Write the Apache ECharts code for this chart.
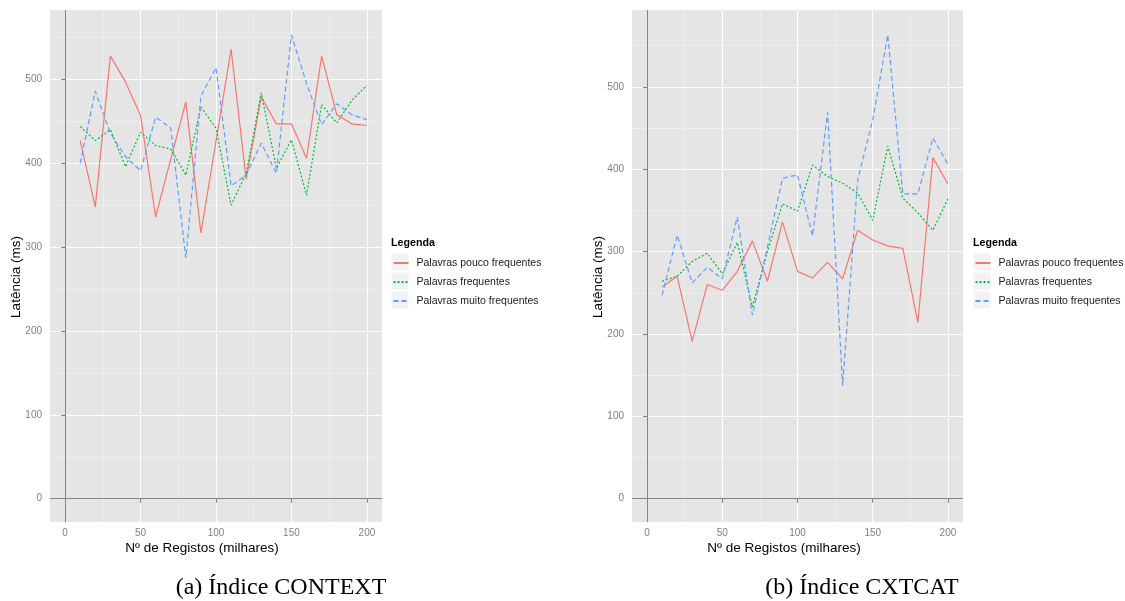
<!DOCTYPE html>
<html>
<head>
<meta charset="utf-8">
<script src="https://cdn.jsdelivr.net/npm/echarts@6/dist/echarts.min.js"></script>
<style>
  html, body { margin: 0; padding: 0; background: #ffffff; }
  #chart { width: 1125px; height: 601px; }
</style>
</head>
<body>
<div id="chart"></div>
<script>
// Número de registos (milhares)
const registos = [10, 20, 30, 40, 50, 60, 70, 80, 90, 100, 110, 120, 130, 140, 150, 160, 170, 180, 190, 200];

// Latência (ms) — índice CONTEXT
const contextPouco = [427, 348, 528, 497, 457, 336, 405, 473, 317, 426, 536, 381, 479, 447, 447, 406, 528, 458, 447, 445];
const contextFreq  = [444, 427, 440, 396, 437, 421, 417, 386, 467, 442, 350, 388, 484, 394, 428, 362, 470, 448, 475, 493];
const contextMuito = [400, 486, 436, 408, 391, 455, 442, 287, 480, 514, 373, 386, 424, 388, 553, 495, 446, 471, 458, 452];

// Latência (ms) — índice CXTCAT
const cxtcatPouco = [257, 270, 191, 260, 253, 276, 313, 264, 336, 276, 268, 287, 267, 326, 314, 307, 304, 214, 414, 382];
const cxtcatFreq  = [264, 270, 288, 298, 273, 311, 233, 300, 358, 349, 405, 391, 383, 371, 338, 428, 365, 347, 326, 364];
const cxtcatMuito = [247, 320, 262, 281, 267, 342, 223, 305, 389, 393, 319, 469, 137, 387, 460, 563, 370, 370, 438, 406];

// Tick values
const xTicks = [0, 50, 100, 150, 200];
const xMinorTicks = [25, 75, 125, 175];
const yTicks = [0, 100, 200, 300, 400, 500];
const yMinorTicks = [50, 150, 250, 350, 450, 550];

const seriesNames = ['Palavras pouco frequentes', 'Palavras frequentes', 'Palavras muito frequentes'];
const captions = ['(a) Índice CONTEXT', '(b) Índice CXTCAT'];

const SANS = "'Liberation Sans', Arial, sans-serif";
const SERIF = "'Liberation Serif', 'Times New Roman', serif";
const lineColors = ['#F8766D', '#00BA38', '#619CFF'];
const lineTypes = ['solid', [2, 2], [5, 3]];

// panel layout
const panels = [
  { left: 50, width: 332, yMin: -27.75, yMax: 582.75, data: [contextPouco, contextFreq, contextMuito],
    legendX: 391, yTitleX: 16, xTitleX: 202, captionX: 281 },
  { left: 632, width: 331, yMin: -28.25, yMax: 593.25, data: [cxtcatPouco, cxtcatFreq, cxtcatMuito],
    legendX: 973, yTitleX: 598, xTitleX: 784, captionX: 862 }
];
const gridTop = 10, gridBottom = 522;

const grids = [], xAxes = [], yAxes = [], series = [], legends = [], graphics = [];

panels.forEach((p, i) => {
  grids.push({
    left: p.left, width: p.width, top: gridTop, height: gridBottom - gridTop,
    show: true, backgroundColor: '#e5e5e5', borderWidth: 0
  });

  const xBase = { type: 'value', gridIndex: i, min: -10, max: 210, axisLine: { show: false } };
  // major grid, ticks and labels
  xAxes.push(Object.assign({}, xBase, {
    axisTick: { show: true, length: 4, customValues: xTicks, lineStyle: { color: '#7f7f7f' } },
    axisLabel: { show: true, customValues: xTicks, color: '#7f7f7f', fontSize: 10, fontFamily: SANS, margin: 6 },
    splitLine: { show: true, lineStyle: { color: '#ffffff', width: 1 } }
  }));
  // minor grid
  xAxes.push(Object.assign({}, xBase, {
    axisTick: { show: false, customValues: xMinorTicks },
    axisLabel: { show: false },
    splitLine: { show: true, lineStyle: { color: '#f2f2f2', width: 0.6 } }
  }));
  // zero reference line
  xAxes.push(Object.assign({}, xBase, {
    z: 1,
    axisTick: { show: false, customValues: [0] },
    axisLabel: { show: false },
    splitLine: { show: true, lineStyle: { color: '#858585', width: 1 } }
  }));

  const yBase = { type: 'value', gridIndex: i, min: p.yMin, max: p.yMax, axisLine: { show: false } };
  yAxes.push(Object.assign({}, yBase, {
    axisTick: { show: true, length: 4, customValues: yTicks, lineStyle: { color: '#7f7f7f' } },
    axisLabel: { show: true, customValues: yTicks, color: '#7f7f7f', fontSize: 10, fontFamily: SANS, margin: 8 },
    splitLine: { show: true, lineStyle: { color: '#ffffff', width: 1 } }
  }));
  yAxes.push(Object.assign({}, yBase, {
    axisTick: { show: false, customValues: yMinorTicks },
    axisLabel: { show: false },
    splitLine: { show: true, lineStyle: { color: '#f2f2f2', width: 0.6 } }
  }));
  yAxes.push(Object.assign({}, yBase, {
    z: 1,
    axisTick: { show: false, customValues: [0] },
    axisLabel: { show: false },
    splitLine: { show: true, lineStyle: { color: '#858585', width: 1 } }
  }));

  p.data.forEach((vals, k) => {
    series.push({
      type: 'line',
      name: seriesNames[k],
      xAxisIndex: 3 * i,
      yAxisIndex: 3 * i,
      data: registos.map((x, j) => [x, vals[j]]),
      symbol: 'none',
      lineStyle: { color: lineColors[k], width: 1.2, type: lineTypes[k] },
      itemStyle: { color: lineColors[k] },
      z: 3
    });
  });

  legends.push({
    orient: 'vertical',
    left: p.legendX + 1.5,
    top: 257,
    padding: 0,
    itemWidth: 15,
    itemHeight: 12,
    itemGap: 7,
    selectedMode: false,
    data: seriesNames,
    itemStyle: { color: 'rgba(0,0,0,0)', borderWidth: 0, opacity: 0 },
    textStyle: { fontSize: 10.5, color: '#1a1a1a', fontFamily: SANS, lineHeight: 12, padding: [0, 0, 0, 3] }
  });

  // legend title and key backgrounds
  graphics.push({
    type: 'text', left: p.legendX, top: 238,
    style: { text: 'Legenda', fontSize: 10.7, fontWeight: 'bold', fontFamily: SANS, fill: '#000' }
  });
  [0, 1, 2].forEach(k => {
    graphics.push({
      type: 'rect', shape: { x: p.legendX, y: 253 + 19 * k, width: 18, height: 18 },
      style: { fill: '#f2f2f2', stroke: '#ffffff', lineWidth: 1 }, z: -1
    });
  });

  // axis titles
  graphics.push({
    type: 'text', x: p.yTitleX, y: 277, rotation: Math.PI / 2,
    style: { text: 'Latência (ms)', fontSize: 13.5, fontFamily: SANS, fill: '#000',
             align: 'center', verticalAlign: 'middle' }
  });
  graphics.push({
    type: 'text', x: p.xTitleX, y: 548,
    style: { text: 'Nº de Registos (milhares)', fontSize: 13.5, fontFamily: SANS, fill: '#000',
             align: 'center', verticalAlign: 'middle' }
  });
  // caption
  graphics.push({
    type: 'text', x: p.captionX, y: 588,
    style: { text: captions[i], fontSize: 24, fontFamily: SERIF, fill: '#000',
             align: 'center', verticalAlign: 'middle' }
  });
});

const chart = echarts.init(document.getElementById('chart'), null, { renderer: 'canvas' });
chart.setOption({
  animation: false,
  backgroundColor: '#ffffff',
  grid: grids,
  xAxis: xAxes,
  yAxis: yAxes,
  legend: legends,
  series: series,
  graphic: graphics
});
</script>
</body>
</html>
